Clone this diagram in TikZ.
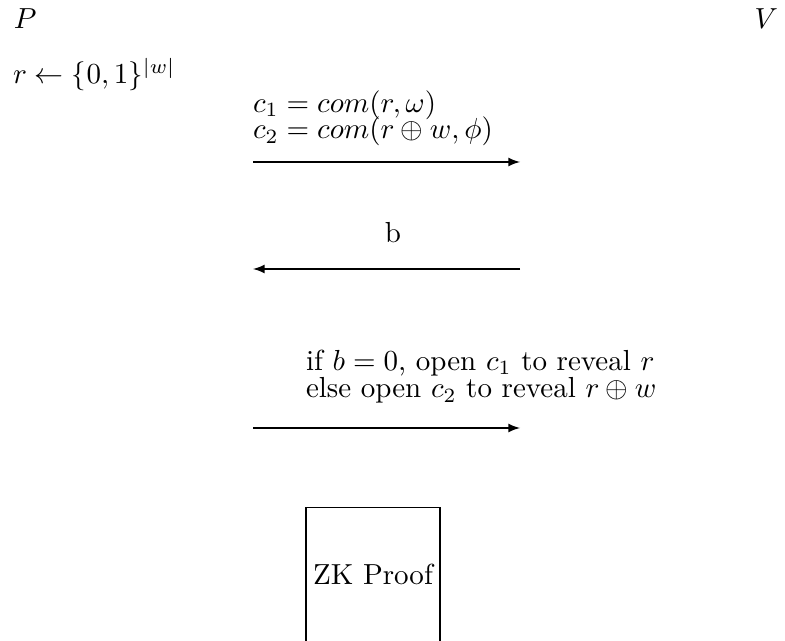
\documentclass[tikz,border=0pt]{standalone}
\usetikzlibrary{arrows}
\begin{document}
\begin{tikzpicture}[x=0.3448pt,y=-0.3448pt,
  lbl/.style={inner sep=0pt,outer sep=0pt},
  msg/.style={-latex,line width=0.4pt},
  zkbox/.style={draw,line width=0.4pt,minimum width=46.2pt,minimum height=46.2pt,inner sep=0pt}]
\clip (0,0) rectangle (785,641);
\node[lbl,anchor=base west] (P) at (14,29) {$P$};
\node[lbl,anchor=base east] (V) at (778,29) {$V$};
\node[lbl,anchor=base west] (r) at (13,84) {$r \leftarrow \{0,1\}^{|w|}$};
\node[lbl,anchor=base west,align=left] (c) at (253,139) {$c_1 = com(r,\omega)$\\[-2.8pt]$c_2 = com(r \oplus w,\phi)$};
\coordinate (a1s) at (253,162);
\coordinate (a1e) at (520,162);
\draw[msg] (a1s) -- (a1e);
\node[lbl,anchor=base] (b) at (393,243) {b};
\coordinate (a2s) at (520,269);
\coordinate (a2e) at (253,269);
\draw[msg] (a2s) -- (a2e);
\node[lbl,anchor=base west,align=left] (open) at (306,398) {if $b=0$, open $c_1$ to reveal $r$\\[-2.4pt]else open $c_2$ to reveal $r \oplus w$};
\coordinate (a3s) at (253,428);
\coordinate (a3e) at (520,428);
\draw[msg] (a3s) -- (a3e);
\node[zkbox] (zk) at (373,574.5) {ZK Proof};
\end{tikzpicture}
\end{document}
